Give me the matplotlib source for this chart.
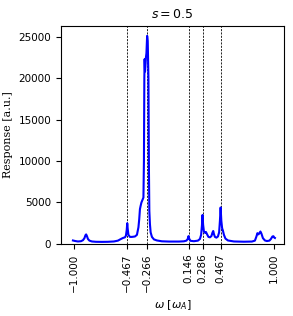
import matplotlib
matplotlib.use('Agg')
import matplotlib.pyplot as plt
import numpy as np

# Frecuencias (en unidades de omega_A) y respuesta
omega = [-1.01, -0.99, -0.96, -0.93, -0.91, -0.895, -0.885, -0.878, -0.87, -0.86,
         -0.845, -0.82, -0.78, -0.72, -0.66, -0.6, -0.56, -0.53, -0.51, -0.49,
         -0.48, -0.472, -0.467, -0.462, -0.455, -0.44, -0.42, -0.39, -0.37, -0.355,
         -0.347, -0.34, -0.333, -0.325, -0.315, -0.305, -0.3, -0.296, -0.293, -0.289,
         -0.285, -0.28, -0.275, -0.268, -0.262, -0.255, -0.25, -0.246, -0.24, -0.233,
         -0.22, -0.2, -0.17, -0.12, -0.05, 0.05, 0.1, 0.125, 0.138, 0.146,
         0.154, 0.165, 0.2, 0.24, 0.26, 0.272, 0.28, 0.286, 0.292, 0.3,
         0.31, 0.32, 0.33, 0.345, 0.36, 0.375, 0.385, 0.393, 0.4, 0.41,
         0.425, 0.44, 0.452, 0.46, 0.467, 0.474, 0.482, 0.49, 0.5, 0.515,
         0.54, 0.6, 0.7, 0.78, 0.81, 0.825, 0.835, 0.845, 0.855, 0.865,
         0.875, 0.89, 0.91, 0.93, 0.955, 0.97, 0.985, 0.995, 1.005, 1.01]
respuesta = [420, 360, 300, 330, 450, 700, 1050, 1150, 950, 600,
             400, 300, 260, 250, 260, 300, 400, 600, 720, 800,
             1000, 1700, 2500, 1800, 1100, 850, 850, 900, 1100, 2000,
             3000, 4200, 4600, 5000, 5300, 5600, 10000, 20000, 22300, 20800,
             21500, 22500, 23000, 25100, 24500, 20000, 9000, 4000, 2400, 1400,
             850, 550, 420, 320, 290, 290, 320, 400, 600, 950,
             600, 380, 330, 400, 600, 1100, 2200, 3500, 2300, 1500,
             1350, 1450, 1200, 850, 800, 950, 1350, 1560, 1200, 850,
             760, 900, 1400, 2800, 4400, 2800, 1900, 1600, 1100, 650,
             420, 300, 270, 290, 400, 900, 1300, 1150, 1300, 1500,
             1250, 700, 420, 350, 400, 600, 900, 930, 750, 720]

# Frecuencias marcadas con lineas verticales
marcas = [-0.467, -0.266, 0.146, 0.286, 0.467]
ticks_x = [-1.0] + marcas + [1.0]

fig = plt.figure(figsize=(2.93, 3.16), dpi=100)
ax = fig.add_axes([0.208, 0.228, 0.761, 0.69])

for m in marcas:
    ax.axvline(m, color='black', linestyle='--', linewidth=0.6, dashes=(2.5, 1.5))

ax.plot(omega, respuesta, color='blue', linewidth=1.5)

ax.set_xlim(-1.13, 1.10)
ax.set_ylim(0, 26300)
ax.set_xticks(ticks_x)
ax.set_xticklabels([f"{t:.3f}".replace('-', '\u2212') for t in ticks_x], rotation=90)
ax.set_yticks([0, 5000, 10000, 15000, 20000, 25000])
ax.tick_params(labelsize=7.5)

ax.set_title(r"$s = 0.5$", fontsize=9)
ax.set_xlabel(r"$\omega\ [\omega_A]$", fontsize=8)
ax.set_ylabel("Response [a.u.]", fontsize=8, family='DejaVu Serif')

plt.savefig("out.png", dpi=100)
plt.close(fig)
